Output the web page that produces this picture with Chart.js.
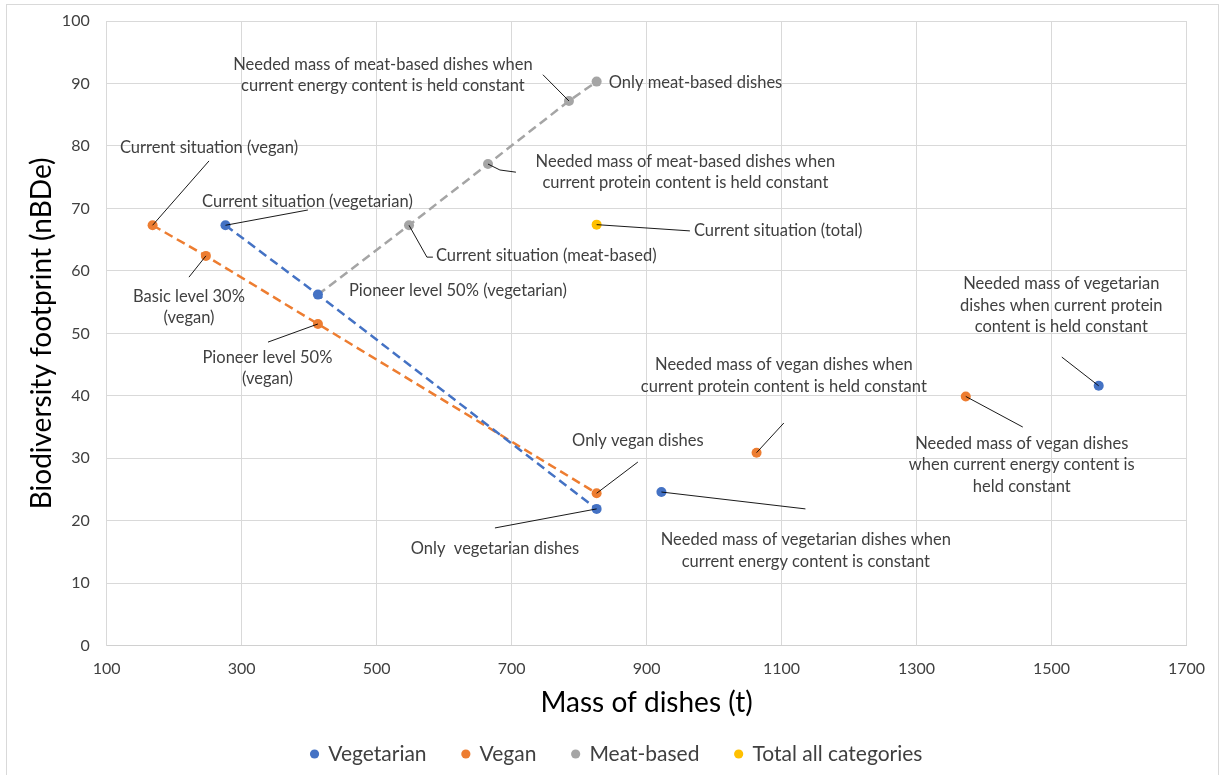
<!DOCTYPE html>
<html>
<head>
<meta charset="utf-8">
<title>Biodiversity footprint vs. mass of dishes</title>
<script src="https://cdn.jsdelivr.net/npm/chart.js@4.4.1/dist/chart.umd.min.js"></script>
<style>
  html, body { margin: 0; padding: 0; background: #fff; }
  #wrap { position: relative; width: 1219px; height: 775px; }
  canvas { display: block; }
</style>
</head>
<body>
<div id="wrap"><canvas id="chart" width="1219" height="775"></canvas></div>
<script>
// Axis ticks
const xTicks = [100, 300, 500, 700, 900, 1100, 1300, 1500, 1700];
const yTicks = [0, 10, 20, 30, 40, 50, 60, 70, 80, 90, 100];

// Mass of dishes (t) and biodiversity footprint (nBDe) per category
const vegetarianMass      = [276, 413, 826, 922, 1570];
const vegetarianFootprint = [67.3, 56.2, 21.9, 24.6, 41.6];

const veganMass      = [168, 247, 413, 826, 1063, 1373];
const veganFootprint = [67.3, 62.4, 51.5, 24.4, 30.9, 39.9];

const meatMass      = [548, 665, 785, 826];
const meatFootprint = [67.3, 77.1, 87.2, 90.3];

const totalMass      = [826];
const totalFootprint = [67.4];

const seriesNames = ['Vegetarian', 'Vegan', 'Meat-based', 'Total all categories'];

// Scenario paths (dashed): indices into the series above
const vegetarianPath = [0, 1, 2];
const veganPath      = [0, 1, 2, 3];
const meatPath       = [0, 1, 2, 3]; // continues from the vegetarian pioneer-level point

const COLORS = { veg: '#4472C4', vegan: '#ED7D31', meat: '#A5A5A5', total: '#FFC000' };

const pts = (xs, ys) => xs.map((x, i) => ({ x, y: ys[i] }));
const vegPts = pts(vegetarianMass, vegetarianFootprint);
const veganPts = pts(veganMass, veganFootprint);
const meatPts = pts(meatMass, meatFootprint);
const totalPts = pts(totalMass, totalFootprint);
const seriesPts = { veg: vegPts, vegan: veganPts, meat: meatPts, total: totalPts };

// Point labels: text, anchor in data units, optional leader-line waypoints in data units
const notes = [
  { s: 'meat', i: 2, lines: ['Needed mass of meat-based dishes when', 'current energy content is held constant'], at: [509.3, 91.3], lead: [[746.4, 91.4]] },
  { s: 'meat', i: 3, lines: ['Only meat-based dishes'], at: [844, 90.1], align: 'left' },
  { s: 'meat', i: 1, lines: ['Needed mass of meat-based dishes when', 'current protein content is held constant'], at: [957.5, 75.8], lead: [[682.7, 76.15], [706.4, 75.8]] },
  { s: 'total', i: 0, lines: ['Current situation (total)'], at: [970.1, 66.4], align: 'left', lead: [[964.2, 66.4]] },
  { s: 'meat', i: 0, lines: ['Current situation (meat-based)'], at: [587.9, 62.4], align: 'left', lead: [[574.5, 62.2], [583.4, 62.2]] },
  { s: 'veg', i: 1, lines: ['Pioneer level 50% (vegetarian)'], at: [459, 56.8], align: 'left' },
  { s: 'veg', i: 0, lines: ['Current situation (vegetarian)'], at: [397.5, 71.0], lead: [[398.2, 69.75]] },
  { s: 'vegan', i: 0, lines: ['Current situation (vegan)'], at: [251.6, 79.7], lead: [[251.6, 77.6]] },
  { s: 'vegan', i: 1, lines: ['Basic level 30%', '(vegan)'], at: [221.9, 54.2], lead: [[221.9, 59.0]] },
  { s: 'vegan', i: 2, lines: ['Pioneer level 50%', '(vegan)'], at: [338.2, 44.4], lead: [[339, 48.6]] },
  { s: 'vegan', i: 3, lines: ['Only vegan dishes'], at: [887.1, 32.8], lead: [[887.1, 29.4]] },
  { s: 'veg', i: 2, lines: ['Only  vegetarian dishes'], at: [675.3, 15.6], lead: [[675.3, 18.85]] },
  { s: 'veg', i: 3, lines: ['Needed mass of vegetarian dishes when', 'current energy content is constant'], at: [1136, 15.2], lead: [[1135.4, 21.9]] },
  { s: 'vegan', i: 4, lines: ['Needed mass of vegan dishes when', 'current protein content is held constant'], at: [1103.4, 43.2], lead: [[1103.4, 35.65]] },
  { s: 'vegan', i: 5, lines: ['Needed mass of vegan dishes', 'when current energy content is', 'held constant'], at: [1456, 28.9], lead: [[1457.5, 35.0]] },
  { s: 'veg', i: 4, lines: ['Needed mass of vegetarian', 'dishes when current protein', 'content is held constant'], at: [1514.5, 54.5], lead: [[1515.3, 46.2]] }
];

const FONT = 'Lato, "Open Sans", sans-serif';
const TEXT = '#404040';

const frame = {
  id: 'frame',
  beforeDraw(chart) {
    const c = chart.ctx;
    c.save();
    c.fillStyle = '#fff';
    c.fillRect(0, 0, chart.width, chart.height);
    c.strokeStyle = '#d9d9d9';
    c.lineWidth = 1;
    c.strokeRect(6.5, 4.5, 1212, 790);
    c.restore();
  }
};

// Centre the legend row under the whole framed chart rather than the padded box
const legendShift = {
  id: 'legendShift',
  afterLayout(chart) {
    const lg = chart.legend;
    if (!lg) return;
    lg.left += 20;
    lg.right += 20;
  }
};

const pointNotes = {
  id: 'pointNotes',
  afterDatasetsDraw(chart) {
    const c = chart.ctx, xs = chart.scales.x, ys = chart.scales.y;
    c.save();
    // leader lines
    c.strokeStyle = '#000';
    c.lineWidth = 0.9;
    notes.forEach(n => {
      if (!n.lead) return;
      const p = seriesPts[n.s][n.i];
      c.beginPath();
      c.moveTo(xs.getPixelForValue(p.x), ys.getPixelForValue(p.y));
      n.lead.forEach(([lx, ly]) => c.lineTo(xs.getPixelForValue(lx), ys.getPixelForValue(ly)));
      c.stroke();
    });
    // label text
    c.fillStyle = TEXT;
    c.font = '16.5px ' + FONT;
    c.textBaseline = 'middle';
    const lh = 21.5;
    notes.forEach(n => {
      const cx = xs.getPixelForValue(n.at[0]);
      const cy = ys.getPixelForValue(n.at[1]);
      c.textAlign = n.align || 'center';
      const y0 = cy - (n.lines.length - 1) * lh / 2;
      n.lines.forEach((t, k) => c.fillText(t, cx, y0 + k * lh));
    });
    c.restore();
  }
};

const markerSet = (label, data, color) => ({
  label, data,
  backgroundColor: color, borderColor: color,
  pointRadius: 5, pointHoverRadius: 5, pointBorderWidth: 0,
  showLine: false
});
const pathSet = (data, color) => ({
  label: '', data,
  borderColor: color, backgroundColor: color,
  borderWidth: 2.5, borderDash: [9, 5],
  pointRadius: 0, pointHoverRadius: 0,
  showLine: true, fill: false, tension: 0
});

new Chart(document.getElementById('chart'), {
  type: 'scatter',
  data: {
    datasets: [
      markerSet(seriesNames[0], vegPts, COLORS.veg),
      markerSet(seriesNames[1], veganPts, COLORS.vegan),
      markerSet(seriesNames[2], meatPts, COLORS.meat),
      markerSet(seriesNames[3], totalPts, COLORS.total),
      pathSet(vegetarianPath.map(i => vegPts[i]), COLORS.veg),
      pathSet(veganPath.map(i => veganPts[i]), COLORS.vegan),
      pathSet([vegPts[1]].concat(meatPath.map(i => meatPts[i])), COLORS.meat)
    ]
  },
  options: {
    responsive: false,
    animation: false,
    events: [],
    layout: { padding: { left: 7, top: 21, right: 32.3, bottom: 0.5 } },
    plugins: {
      tooltip: { enabled: false },
      legend: {
        position: 'bottom',
        labels: {
          filter: item => item.datasetIndex < 4,
          usePointStyle: true,
          pointStyle: 'circle',
          boxWidth: 6.5,
          boxHeight: 6.5,
          padding: 36,
          color: TEXT,
          font: { family: FONT, size: 21 }
        }
      }
    },
    scales: {
      x: {
        type: 'linear',
        min: xTicks[0], max: xTicks[xTicks.length - 1],
        afterBuildTicks: s => { s.ticks = xTicks.map(v => ({ value: v })); },
        afterFit: s => { s.height = 61.8; },
        ticks: { color: TEXT, padding: 14, font: { family: FONT, size: 16 }, callback: v => String(v) },
        grid: { color: '#d9d9d9', drawTicks: false },
        border: { color: '#d0d0d0' },
        title: {
          display: true, text: 'Mass of dishes (t)', color: '#000',
          font: { family: FONT, size: 28 }, padding: { top: 0, bottom: -12.3 }
        }
      },
      y: {
        type: 'linear',
        min: yTicks[0], max: yTicks[yTicks.length - 1],
        afterBuildTicks: s => { s.ticks = yTicks.map(v => ({ value: v })); },
        afterFit: s => { s.width = 99.7; },
        ticks: { color: TEXT, padding: 4, font: { family: FONT, size: 16 } },
        grid: { color: '#d9d9d9', drawTicks: true, tickLength: 13, tickColor: 'rgba(0,0,0,0)' },
        border: { color: '#d9d9d9' },
        title: {
          display: true, text: 'Biodiversity footprint (nBDe)', color: '#000',
          font: { family: FONT, size: 28 }, padding: { top: 18.2, bottom: 0 }
        }
      }
    }
  },
  plugins: [frame, legendShift, pointNotes]
});
</script>
</body>
</html>
